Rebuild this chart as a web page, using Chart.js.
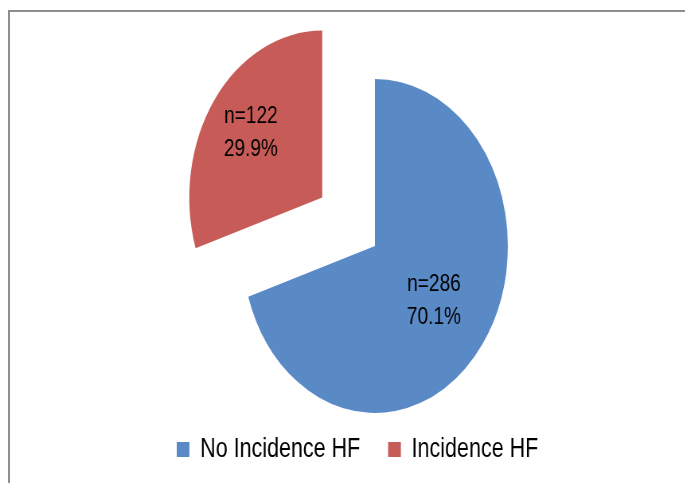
<!DOCTYPE html>
<html>
<head>
<meta charset="utf-8">
<script src="https://cdn.jsdelivr.net/npm/chart.js@4/dist/chart.umd.min.js"></script>
<style>
    html, body { margin: 0; padding: 0; background: #fff; overflow: hidden; }
    #frame {
        position: absolute; left: 8px; top: 10px; width: 800px; height: 600px;
        border-left: 2px solid #8e8e8e; border-top: 2px solid #8e8e8e;
    }
    #wrap {
        position: absolute; left: 0; top: 0; width: 860px; height: 483px;
        transform: scaleX(0.796); transform-origin: 0 0;
    }
</style>
</head>
<body>
<div id="frame"></div>
<div id="wrap"><canvas id="pieChart" width="860" height="483"></canvas></div>
<script>
const labels = ["No Incidence HF", "Incidence HF"];
const counts = [286, 122];
const percents = ["70.1%", "29.9%"];
const colors = ["#5a8ac6", "#c75b57"];

// pull slices out from the centre (px), drawn with the library's own arc elements
const explode = {
    id: "explode",
    beforeDatasetDraw(chart, args, opts) {
        const ctx = chart.ctx;
        args.meta.data.forEach((arc, i) => {
            const p = arc.getProps(["startAngle", "endAngle"], true);
            const mid = (p.startAngle + p.endAngle) / 2;
            const d = opts.dist[i] || 0;
            ctx.save();
            ctx.translate(Math.cos(mid) * d, Math.sin(mid) * d);
            arc.draw(ctx, chart.chartArea);
            ctx.restore();
        });
        return false;
    }
};

// labels inside slices: "n=..." and percentage
const sliceLabels = {
    id: "sliceLabels",
    afterDatasetsDraw(chart, args, opts) {
        const ctx = chart.ctx;
        const meta = chart.getDatasetMeta(0);
        const dist = chart.options.plugins.explode.dist;
        ctx.save();
        ctx.font = "24px 'Liberation Sans', Arial, sans-serif";
        ctx.fillStyle = "#000";
        ctx.textAlign = "center";
        ctx.textBaseline = "middle";
        meta.data.forEach((arc, i) => {
            const p = arc.getProps(["x", "y", "startAngle", "endAngle", "outerRadius"], true);
            const mid = (p.startAngle + p.endAngle) / 2;
            const d = (dist[i] || 0) + p.outerRadius * opts.fraction[i];
            const x = p.x + Math.cos(mid) * d;
            const y = p.y + Math.sin(mid) * d;
            ctx.fillText("n=" + counts[i], x, y - 16);
            ctx.fillText(percents[i], x, y + 17);
        });
        ctx.restore();
    }
};

const canvas = document.getElementById("pieChart");
if(canvas != null) {
    const ctx = canvas.getContext("2d");

    const myChart = new Chart(ctx, {
        type: "pie",
        data: {
            labels: labels,
            datasets: [
                {
                    data: counts,
                    backgroundColor: colors,
                    borderWidth: 0,
                    hoverOffset: 0,
                    clip: false,
                },
            ],
        },
        plugins: [explode, sliceLabels],
        options: {
            responsive: false,
            animation: false,
            radius: 167,
            layout: {
                padding: { left: 187, right: 105, top: 91, bottom: 10 },
            },
            plugins: {
                explode: { dist: [0, 82] },
                sliceLabels: { fraction: [0.55, 0.665] },
                tooltip: { enabled: false },
                legend: {
                    position: "bottom",
                    align: "start",
                    labels: {
                        boxWidth: 16,
                        boxHeight: 15,
                        padding: 35,
                        color: "#000",
                        font: { size: 27, family: "'Liberation Sans', Arial, sans-serif" },
                    },
                },
            },
        }
    });
}
</script>
</body>
</html>
